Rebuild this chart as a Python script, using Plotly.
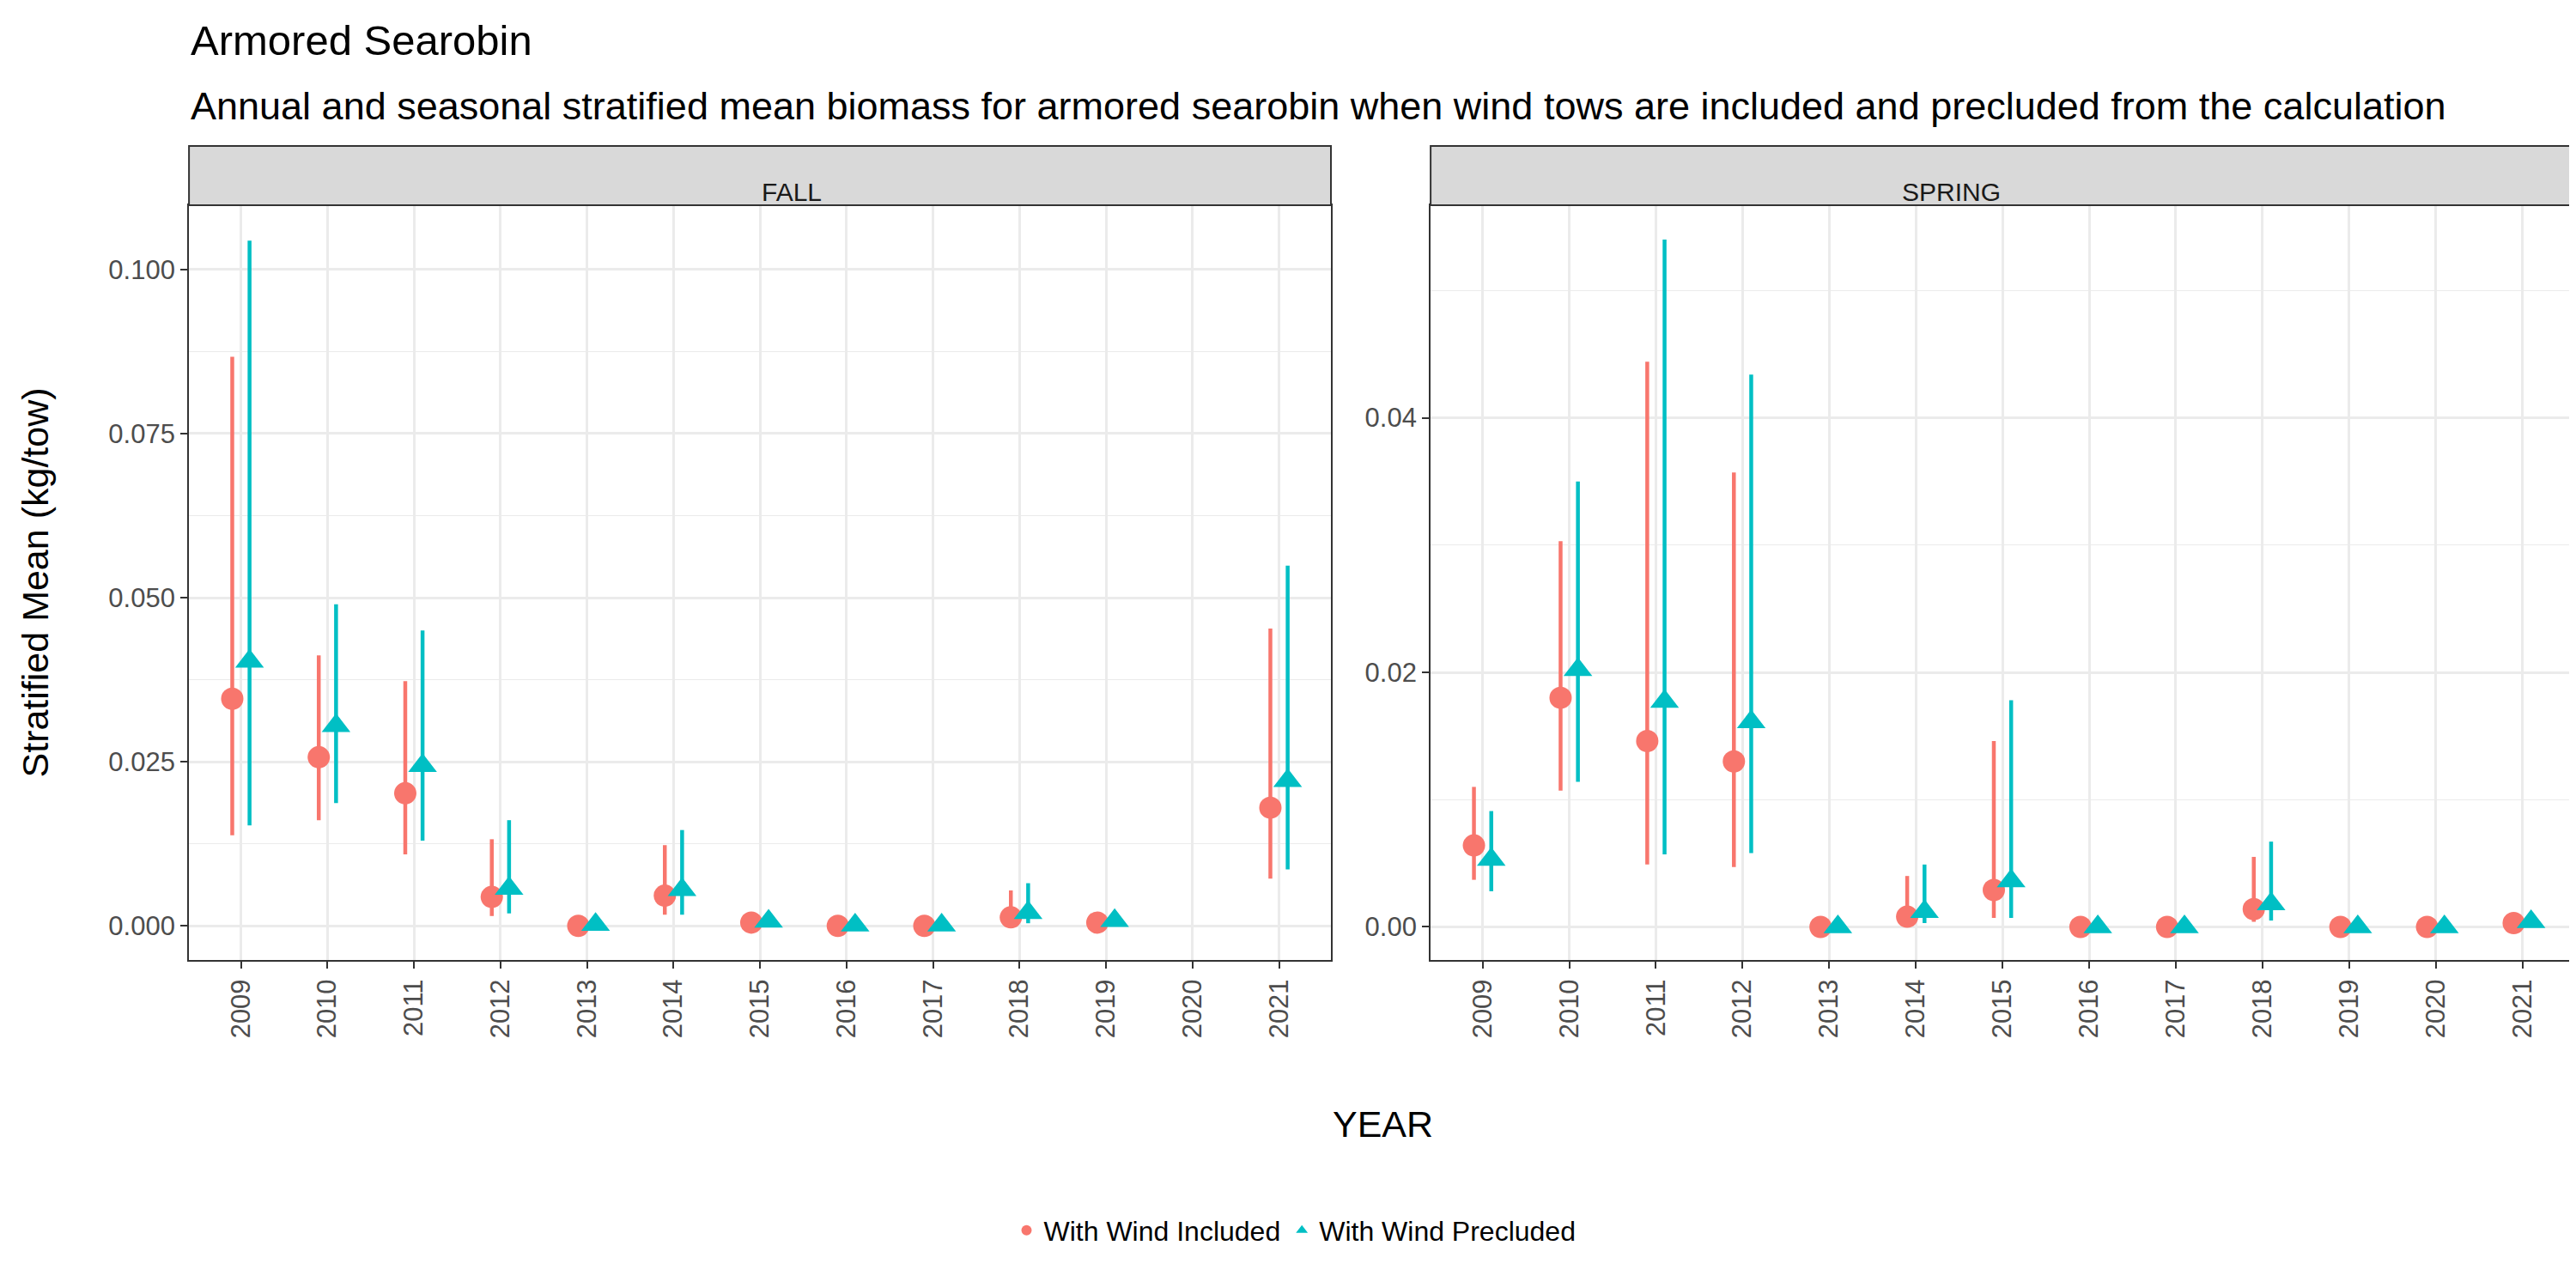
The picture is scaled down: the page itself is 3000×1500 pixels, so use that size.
import plotly.graph_objects as go

years = list(range(2009, 2022))
# FALL (2020 missing)
fall_years = [2009,2010,2011,2012,2013,2014,2015,2016,2017,2018,2019,2021]
fall_inc = [0.0346,0.0257,0.0202,0.0044,0.0000,0.0046,0.0005,0.0000,0.0000,0.0013,0.0005,0.0180]
fall_inc_lo = [0.0138,0.0161,0.0109,0.0015,0.0000,0.0017,0.0002,0.0000,0.0000,0.0003,0.0002,0.0072]
fall_inc_hi = [0.0867,0.0412,0.0373,0.0132,0.0001,0.0123,0.0010,0.0001,0.0001,0.0054,0.0010,0.0453]
fall_pre = [0.0403,0.0305,0.0244,0.0057,0.0002,0.0055,0.0007,0.0001,0.0001,0.0020,0.0008,0.0221]
fall_pre_lo = [0.0153,0.0187,0.0130,0.0019,0.0000,0.0017,0.0003,0.0000,0.0000,0.0004,0.0003,0.0086]
fall_pre_hi = [0.1044,0.0490,0.0450,0.0161,0.0003,0.0146,0.0012,0.0002,0.0002,0.0065,0.0013,0.0549]
# SPRING
spr_years = years
spr_inc = [0.0064,0.0180,0.0146,0.0130,0.0000,0.0008,0.0029,0.0000,0.0000,0.0014,0.0000,0.0000,0.0003]
spr_inc_lo = [0.0037,0.0107,0.0049,0.0047,0.0000,0.0002,0.0007,0.0000,0.0000,0.0004,0.0000,0.0000,0.0001]
spr_inc_hi = [0.0110,0.0303,0.0444,0.0357,0.0001,0.0040,0.0146,0.0001,0.0001,0.0055,0.0001,0.0001,0.0006]
spr_pre = [0.0053,0.0202,0.0177,0.0161,0.0000,0.0012,0.0036,0.0000,0.0000,0.0018,0.0000,0.0000,0.0004]
spr_pre_lo = [0.0028,0.0114,0.0057,0.0058,0.0000,0.0003,0.0007,0.0000,0.0000,0.0005,0.0000,0.0000,0.0001]
spr_pre_hi = [0.0091,0.0350,0.0540,0.0434,0.0001,0.0049,0.0178,0.0001,0.0001,0.0067,0.0001,0.0001,0.0007]

RED = "#F8766D"; TEAL = "#00BFC4"
FONT = "Liberation Sans"

def err(v, lo, hi):
    return dict(type="data", symmetric=False,
                array=[h - m for m, h in zip(v, hi)],
                arrayminus=[m - l for m, l in zip(v, lo)],
                width=0, thickness=4.5)

fig = go.Figure()
def add(xs, v, lo, hi, off, color, sym, name, xa, ya, show):
    e = err(v, lo, hi); e["color"] = color
    fig.add_trace(go.Scatter(x=[x + off for x in xs], y=v, mode="markers",
        marker=dict(color=color, symbol=sym, size=26 if sym == "circle" else 29),
        error_y=e, name=name, legendgroup=name, showlegend=show, xaxis=xa, yaxis=ya))

add(fall_years, fall_inc, fall_inc_lo, fall_inc_hi, -0.1, RED, "circle", "With Wind Included", "x", "y", True)
add(fall_years, fall_pre, fall_pre_lo, fall_pre_hi, 0.1, TEAL, "triangle-up", "With Wind Precluded", "x", "y", True)
add(spr_years, spr_inc, spr_inc_lo, spr_inc_hi, -0.1, RED, "circle", "With Wind Included", "x2", "y2", False)
add(spr_years, spr_pre, spr_pre_lo, spr_pre_hi, 0.1, TEAL, "triangle-up", "With Wind Precluded", "x2", "y2", False)

xcommon = dict(range=[2008.4, 2021.6], tickvals=years, ticktext=[str(y) for y in years],
               tickangle=-90, showgrid=True, gridcolor="#EBEBEB", gridwidth=2.5,
               showline=True, linecolor="#333333", linewidth=2, mirror=True,
               ticks="outside", ticklen=8, tickcolor="#333333", tickwidth=2,
               tickfont=dict(family=FONT, size=31, color="#4D4D4D"), zeroline=False)
ycommon = dict(showgrid=True, gridcolor="#EBEBEB", gridwidth=2.5,
               showline=True, linecolor="#333333", linewidth=2, mirror=True,
               ticks="outside", ticklen=8, tickcolor="#333333", tickwidth=2,
               tickfont=dict(family=FONT, size=31, color="#4D4D4D"), zeroline=False)

fig.update_layout(
    width=3000, height=1500, plot_bgcolor="white", paper_bgcolor="white",
    margin=dict(l=0, r=0, t=0, b=0),
    xaxis=dict(domain=[0.0707, 0.514], anchor="y", **xcommon),
    xaxis2=dict(domain=[0.5527, 0.9967], anchor="y2", **xcommon),
    yaxis=dict(domain=[0.26, 0.846], range=[-0.0052, 0.1098],
               tickvals=[0, 0.025, 0.05, 0.075, 0.1], ticktext=["0.000","0.025","0.050","0.075","0.100"],
               minor=dict(tickvals=[0.0125,0.0375,0.0625,0.0875], showgrid=True, gridcolor="#EBEBEB", gridwidth=1.2, ticks=""),
               **ycommon),
    yaxis2=dict(domain=[0.26, 0.846], range=[-0.0026, 0.0567], anchor="x2",
                tickvals=[0, 0.02, 0.04], ticktext=["0.00","0.02","0.04"],
                minor=dict(tickvals=[0.01,0.03,0.05], showgrid=True, gridcolor="#EBEBEB", gridwidth=1.2, ticks=""),
                **ycommon),
    legend=dict(orientation="h", x=0.5, xanchor="center", y=0.05, yanchor="middle",
                font=dict(family=FONT, size=32, color="black"), itemsizing="constant"),
    font=dict(family=FONT),
)

# strips
for x0, x1, label in [(0.0707, 0.514, "FALL"), (0.5527, 0.9967, "SPRING")]:
    fig.add_shape(type="rect", xref="paper", yref="paper", x0=x0, x1=x1, y0=0.846, y1=0.892,
                  fillcolor="#D9D9D9", line=dict(color="#333333", width=2))
    fig.add_annotation(xref="paper", yref="paper", x=(x0 + x1) / 2, y=0.869, text=label,
                       showarrow=False, font=dict(family=FONT, size=30, color="#1A1A1A"))

fig.add_annotation(xref="paper", yref="paper", x=0.0707, y=0.974, xanchor="left", yanchor="middle",
                   text="Armored Searobin", showarrow=False, font=dict(family=FONT, size=49, color="black"))
fig.add_annotation(xref="paper", yref="paper", x=0.0707, y=0.923, xanchor="left", yanchor="middle",
                   text="Annual and seasonal stratified mean biomass for armored searobin when wind tows are included and precluded from the calculation",
                   showarrow=False, font=dict(family=FONT, size=45, color="black"))
fig.add_annotation(xref="paper", yref="paper", x=0.534, y=0.133, xanchor="center", yanchor="middle",
                   text="YEAR", showarrow=False, font=dict(family=FONT, size=43, color="black"))
fig.add_annotation(xref="paper", yref="paper", x=0.011, y=0.553, xanchor="center", yanchor="middle",
                   text="Stratified Mean (kg/tow)", textangle=-90, showarrow=False,
                   font=dict(family=FONT, size=43, color="black"))

fig.write_html("out.html")
